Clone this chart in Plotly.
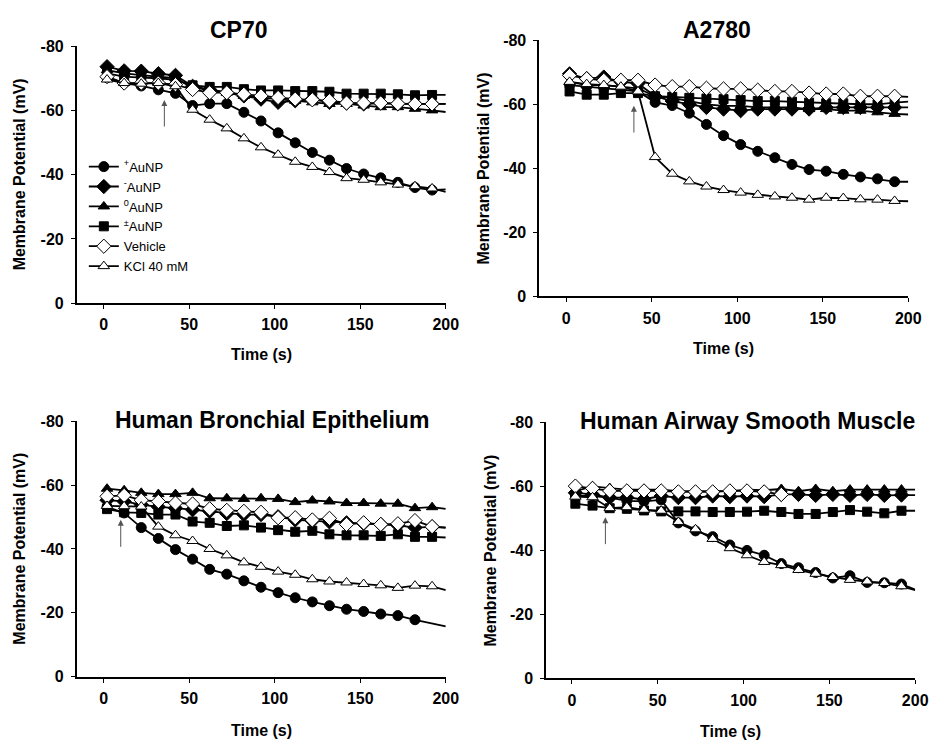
import plotly.graph_objects as go

# ---------------- data ----------------
time_s = [2, 12, 22, 32, 42, 52, 62, 72, 82, 92, 102, 112, 122, 132, 142, 152, 162, 172, 182, 192]
end_time = 200

series_names = ["<sup>+</sup>AuNP", "<sup>-</sup>AuNP", "<sup>0</sup>AuNP",
                "<sup>±</sup>AuNP", "Vehicle", "KCl 40 mM"]

panel_titles = ["CP70", "A2780", "Human Bronchial Epithelium", "Human Airway Smooth Muscle"]

# CP70
cp70_pos = [-70.2, -68.5, -67.6, -66.4, -65.3, -61.5, -62.1, -62.1, -59.4, -56.7, -53.0, -49.9, -46.9, -44.5, -41.9, -40.2, -39.0, -37.6, -36.0, -35.2]
cp70_neg = [-73.6, -72.3, -72.2, -71.4, -70.9, -67.5, -66.5, -65.5, -64.5, -63.5, -62.5, -63.0, -63.5, -62.5, -62.3, -62.0, -62.3, -62.0, -62.0, -62.0]
cp70_neu = [-72.5, -71.5, -71.0, -70.5, -70.0, -67.0, -66.5, -65.5, -64.5, -64.0, -63.5, -63.0, -62.5, -62.0, -62.0, -61.5, -61.0, -61.0, -60.5, -60.0]
cp70_zwi = [-71.5, -70.5, -70.2, -70.0, -69.5, -67.8, -67.3, -67.3, -66.6, -66.2, -66.2, -66.0, -66.0, -65.8, -65.2, -65.2, -65.2, -65.0, -64.7, -64.8]
cp70_veh = [-70.5, -68.5, -68.5, -68.5, -68.0, -66.5, -65.5, -65.5, -65.0, -64.5, -64.0, -63.5, -63.3, -63.0, -62.3, -62.3, -62.3, -62.1, -62.0, -62.0]
cp70_kcl = [-69.6, -68.5, -68.3, -68.5, -67.5, -60.2, -57.1, -54.4, -51.3, -48.5, -46.2, -44.0, -42.4, -40.8, -38.9, -38.4, -37.6, -36.9, -36.4, -35.7]
cp70_end = [-35.4, -62.0, -59.5, -64.8, -62.0, -34.6]

# A2780
a2780_pos = [-66.0, -65.5, -65.0, -64.5, -64.0, -60.6, -59.6, -57.2, -53.7, -50.2, -47.4, -45.3, -43.3, -41.2, -39.6, -39.1, -38.1, -37.3, -36.7, -35.8]
a2780_neg = [-69.5, -68.0, -68.5, -67.0, -66.5, -62.5, -61.0, -60.0, -59.0, -58.5, -58.0, -58.5, -58.5, -58.5, -58.5, -59.0, -59.0, -59.0, -59.0, -59.0]
a2780_neu = [-67.0, -66.0, -66.0, -65.5, -65.0, -62.5, -62.0, -61.0, -60.0, -59.5, -59.5, -59.0, -59.0, -59.0, -58.5, -58.5, -58.0, -58.0, -57.5, -57.0]
a2780_zwi = [-64.0, -63.0, -63.0, -63.5, -63.5, -62.5, -62.3, -62.0, -61.8, -61.6, -61.3, -61.0, -61.0, -60.8, -60.5, -60.3, -60.3, -60.0, -60.0, -60.5]
a2780_veh = [-69.0, -68.0, -67.5, -67.5, -67.5, -66.0, -65.5, -65.5, -65.0, -64.8, -64.8, -64.4, -64.0, -64.0, -63.5, -63.2, -63.2, -62.5, -62.5, -62.5]
a2780_kcl = [-67.0, -66.3, -66.0, -65.5, -64.0, -43.5, -38.3, -35.9, -34.3, -33.2, -32.4, -31.7, -31.2, -30.8, -30.2, -30.8, -30.7, -30.3, -30.2, -29.8]
a2780_end = [-35.8, -59.0, -56.8, -60.8, -62.3, -29.7]

# Human Bronchial Epithelium
hbe_pos = [-53.2, -51.3, -46.7, -43.3, -39.8, -36.8, -33.6, -32.1, -30.0, -28.0, -26.3, -24.7, -23.4, -22.2, -21.1, -20.4, -19.6, -19.1, -17.8, None]
hbe_neg = [-55.3, -54.9, -53.9, -53.2, -52.8, -52.3, -51.8, -51.1, -50.8, -50.8, -50.1, -49.1, -48.8, -48.5, -48.2, -48.0, -47.7, -47.4, -46.7, -46.9]
hbe_neu = [-58.9, -58.4, -57.6, -57.2, -57.2, -57.6, -55.9, -55.9, -55.7, -55.9, -55.7, -54.7, -55.2, -54.9, -54.4, -54.4, -54.2, -54.2, -52.8, -53.1]
hbe_zwi = [-52.5, -51.5, -51.3, -50.8, -50.8, -48.6, -48.2, -47.2, -47.4, -46.7, -45.9, -45.4, -45.7, -44.6, -44.3, -44.3, -44.1, -44.6, -43.8, -43.8]
hbe_veh = [-56.5, -56.8, -55.3, -54.9, -54.4, -54.1, -52.6, -52.1, -51.8, -51.5, -49.8, -49.8, -49.1, -49.6, -47.7, -48.2, -47.7, -47.9, -48.9, -47.0]
hbe_kcl = [-53.5, -53.4, -53.3, -47.0, -44.3, -42.5, -40.0, -38.0, -35.8, -34.4, -32.9, -31.9, -30.5, -29.8, -29.5, -29.0, -28.6, -27.8, -28.5, -28.3]
hbe_end = [-15.7, -46.8, -52.6, -43.6, -46.6, -27.1]

# Human Airway Smooth Muscle
hasm_pos = [-57.0, -57.0, -56.5, -55.5, -55.3, -55.8, -48.6, -46.1, -44.3, -41.7, -40.0, -38.5, -35.9, -34.6, -33.1, -31.4, -32.1, -30.0, -29.9, -29.5]
hasm_neg = [-58.0, -57.5, -56.5, -56.5, -56.0, -57.0, -56.5, -56.5, -57.0, -56.8, -57.0, -56.8, -57.5, -57.5, -57.2, -57.5, -57.2, -57.5, -57.2, -57.3]
hasm_neu = [-58.5, -60.0, -59.5, -59.0, -59.0, -59.0, -58.5, -58.5, -58.5, -58.5, -59.0, -58.8, -59.2, -58.5, -59.2, -58.5, -59.0, -59.0, -59.0, -59.0]
hasm_zwi = [-54.6, -54.0, -53.2, -53.0, -52.5, -52.2, -52.2, -52.2, -52.0, -52.0, -52.1, -52.4, -52.0, -51.4, -51.4, -52.0, -52.6, -52.1, -51.6, -52.4]
hasm_veh = [-60.1, -59.4, -58.6, -58.6, -58.6, -58.6, -58.3, -58.3, -58.3, -58.6, -58.6, -58.3, -57.5, None, None, None, None, None, None, None]
hasm_kcl = [-56.8, -56.6, -53.2, -53.5, -52.7, -52.4, -48.9, -46.6, -43.6, -40.7, -38.5, -36.4, -35.4, -33.9, -32.7, -31.7, -30.8, -30.3, -29.8, -28.8]
hasm_end = [-27.8, -57.3, -59.0, -52.4, None, -27.6]

# arrow (time of addition): x, tip y, tail y
arrow_time = [35.5, 39.6, 10.0, 19.5]
arrow_tip = [-63.2, -59.5, -49.2, -50.4]
arrow_tail = [-54.5, -50.7, -40.2, -41.5]

x_ticks = [0, 50, 100, 150, 200]
y_ticks = [-80, -60, -40, -20, 0]
y_tick_text = ["-80", "-60", "-40", "-20", "0"]
x_title = "Time (s)"
y_title = "Membrane Potential (mV)"

panels = [
    [cp70_pos, cp70_neg, cp70_neu, cp70_zwi, cp70_veh, cp70_kcl, cp70_end],
    [a2780_pos, a2780_neg, a2780_neu, a2780_zwi, a2780_veh, a2780_kcl, a2780_end],
    [hbe_pos, hbe_neg, hbe_neu, hbe_zwi, hbe_veh, hbe_kcl, hbe_end],
    [hasm_pos, hasm_neg, hasm_neu, hasm_zwi, hasm_veh, hasm_kcl, hasm_end],
]

# ---------------- styling ----------------
W, H = 943, 751
FONT = "Liberation Sans, Arial, sans-serif"
symbols = ["circle", "diamond", "triangle-up", "square", "diamond", "triangle-up"]
fills = ["black", "black", "black", "black", "white", "white"]
msizes = [10, 11, 10, 9, 11, 10]

# plot rectangles in pixels: left, right, top, bottom, x-axis start value
rects = [
    (78, 452, 39, 302, -15.6),
    (547, 921, 33, 295, -15.6),
    (78, 452, 423, 684, -15.6),
    (554, 928, 424, 686, -14.9),
]
title_pos = [(242, 23), (727, 22), (276, 422), (758, 423)]
ytitle_x = [20, 490, 20, 497]
xtitle_y = [355, 348, 739, 740]

fig = go.Figure()
layout = dict(
    width=W, height=H, margin=dict(l=0, r=0, t=0, b=0),
    paper_bgcolor="white", plot_bgcolor="white",
    font=dict(family=FONT, color="black"),
    showlegend=True,
)
annotations = []

for p, data in enumerate(panels):
    xa = "x" if p == 0 else f"x{p+1}"
    ya = "y" if p == 0 else f"y{p+1}"
    left, right, top, bottom, xstart = rects[p]
    ends = data[6]
    for s in range(6):
        vals = data[s]
        if ends[s] is not None:
            # last valid point + extension to the end of the axis
            last_i = max(i for i, v in enumerate(vals) if v is not None)
            fig.add_trace(go.Scatter(
                x=[time_s[last_i], end_time], y=[vals[last_i], ends[s]],
                mode="lines", line=dict(color="black", width=1.8),
                xaxis=xa, yaxis=ya, showlegend=False, hoverinfo="skip"))
        fig.add_trace(go.Scatter(
            x=time_s, y=vals, mode="lines+markers", name=series_names[s],
            line=dict(color="black", width=1.8),
            marker=dict(symbol=symbols[s], size=msizes[s], color=fills[s],
                        line=dict(color="black", width=1)),
            xaxis=xa, yaxis=ya, showlegend=(p == 0), connectgaps=False))

    axis_common = dict(showline=True, linecolor="black", linewidth=2, showgrid=False,
                       zeroline=False, ticks="outside", ticklen=4, tickwidth=1,
                       tickcolor="black",
                       tickfont=dict(family=FONT, size=16, color="black", weight="bold"))
    layout["xaxis" if p == 0 else f"xaxis{p+1}"] = dict(
        axis_common, domain=[left / W, right / W], range=[xstart, 200],
        tickvals=x_ticks, anchor=ya, ticklabelstandoff=2)
    layout["yaxis" if p == 0 else f"yaxis{p+1}"] = dict(
        axis_common, domain=[1 - bottom / H, 1 - top / H], range=[0, -80],
        tickvals=y_ticks, ticktext=y_tick_text, anchor=xa, ticklabelstandoff=4)

    tx, ty = title_pos[p]
    annotations.append(dict(text=panel_titles[p], x=tx / W, y=1 - ty / H,
                            xref="paper", yref="paper", showarrow=False,
                            xanchor="center", yanchor="middle",
                            font=dict(family=FONT, size=23, color="black", weight="bold")))
    annotations.append(dict(text=x_title, x=(left + right) / 2 / W, y=1 - xtitle_y[p] / H,
                            xref="paper", yref="paper", showarrow=False,
                            xanchor="center", yanchor="middle",
                            font=dict(family=FONT, size=16, color="black", weight="bold")))
    annotations.append(dict(text=y_title, x=ytitle_x[p] / W, y=1 - (top + bottom) / 2 / H,
                            xref="paper", yref="paper", showarrow=False, textangle=-90,
                            xanchor="center", yanchor="middle",
                            font=dict(family=FONT, size=16, color="black", weight="bold")))
    annotations.append(dict(text="", x=arrow_time[p], y=arrow_tip[p],
                            ax=arrow_time[p], ay=arrow_tail[p],
                            xref=xa, yref=ya, axref=xa, ayref=ya,
                            showarrow=True, arrowhead=2, arrowsize=1.2,
                            arrowwidth=1, arrowcolor="#555555"))

layout["annotations"] = annotations
layout["legend"] = dict(x=85 / W, y=1 - 147 / H, xanchor="left", yanchor="top",
                        bgcolor="rgba(0,0,0,0)", borderwidth=0, itemwidth=30,
                        font=dict(family=FONT, size=13, color="black"),
                        tracegroupgap=0)
fig.update_layout(**layout)
fig.write_html("out.html", config={"displayModeBar": False},
               post_script="document.body.style.margin='0px';")
